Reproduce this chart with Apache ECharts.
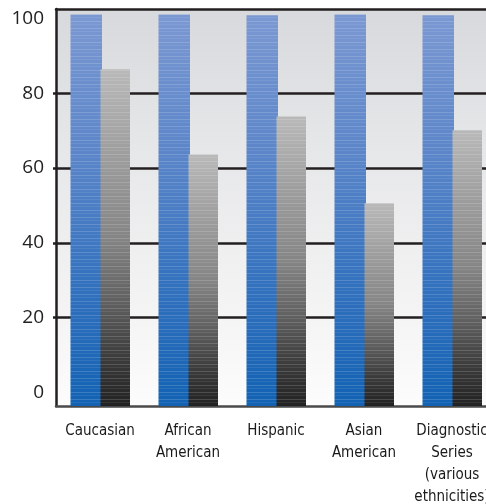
<!DOCTYPE html>
<html>
<head>
<meta charset="utf-8">
<script src="https://cdn.jsdelivr.net/npm/echarts@6/dist/echarts.min.js"></script>
<style>
  html, body { margin: 0; padding: 0; background: #fff; }
  #chart { width: 486px; height: 504px; }
</style>
</head>
<body>
<div id="chart"></div>
<script>
const categories = ['Caucasian', 'African\nAmerican', 'Hispanic', 'Asian\nAmerican', 'Diagnostic\nSeries\n(various\nethnicities)']
const blueValues = [101, 101, 100.8, 101, 100.8]
const grayValues = [86.4, 63.6, 73.8, 50.6, 70.1]
const tickMin = 0
const tickMax = 100
const tickStep = 20

// the bars sit on a floor a little below zero, the frame a little above 100
const Y_MIN = -3.6
const Y_MAX = 102.5
const GRID_TOP = 9
const GRID_BOTTOM = 98
const CHART_H = 504
const ppu = (CHART_H - GRID_TOP - GRID_BOTTOM) / (Y_MAX - Y_MIN)

const dark = '#231f20'

// faint light stripes over the bars
const stripe = document.createElement('canvas')
stripe.width = 4
stripe.height = 7
const sctx = stripe.getContext('2d')
sctx.fillStyle = 'rgba(255,255,255,0.16)'
sctx.fillRect(0, 0, 4, 1)
sctx.fillStyle = 'rgba(255,255,255,0.08)'
sctx.fillRect(0, 3, 4, 1)
const stripePattern = { image: stripe, repeat: 'repeat' }

const grad = (stops) => new echarts.graphic.LinearGradient(0, 0, 0, 1,
  stops.map(([offset, color]) => ({ offset, color })))

const blueFill = grad([[0, '#7b98d2'], [0.35, '#5c86c9'], [0.7, '#3271be'], [1, '#1262b3']])
const grayFill = grad([[0, '#b9b9b9'], [0.25, '#9e9e9e'], [0.5, '#858585'], [0.7, '#5e5e5e'], [0.85, '#3d3d3d'], [1, '#222222']])

const barRenderer = (offset, width, fill) => (params, api) => {
  const i = api.value(0)
  const top = api.coord([i, api.value(1)])
  const base = api.coord([i, Y_MIN])
  const shape = { x: top[0] + offset, y: top[1], width, height: base[1] - top[1] }
  return {
    type: 'group',
    children: [
      { type: 'rect', shape, style: { fill } },
      { type: 'rect', shape, style: { fill: stripePattern } }
    ]
  }
}

// only the inner ticks get a rule; 0 and 100 stay bare
const ruleColors = []
for (let v = tickMin; v <= tickMax; v += tickStep) {
  ruleColors.push(v === tickMin || v === tickMax ? 'rgba(0,0,0,0)' : dark)
}

const chart = echarts.init(document.getElementById('chart'))

chart.setOption({
  animation: false,
  grid: [
    {
      left: 56, top: GRID_TOP, width: 440, bottom: GRID_BOTTOM,
      outerBoundsMode: 'none', containLabel: false,
      show: true, borderWidth: 0,
      backgroundColor: grad([[0, '#d8d9dc'], [0.35, '#e6e7e9'], [0.7, '#f2f2f2'], [1, '#fcfcfc']])
    },
    {
      left: 53, width: 440,
      outerBoundsMode: 'none', containLabel: false,
      top: GRID_TOP + (Y_MAX - tickMax) * ppu,
      bottom: GRID_BOTTOM + (tickMin - Y_MIN) * ppu
    }
  ],
  xAxis: [
    {
      gridIndex: 0, type: 'category', data: categories,
      axisLine: { onZero: false, lineStyle: { color: '#4a4a4a', width: 2.5 } },
      axisTick: { show: false },
      axisLabel: {
        margin: 14, interval: 0,
        fontFamily: '"Liberation Sans Narrow", "DejaVu Sans Condensed", sans-serif',
        fontSize: 15, lineHeight: 22, color: '#1a1a1a'
      }
    },
    {
      gridIndex: 0, type: 'category', data: categories, position: 'top',
      axisLine: { onZero: false, lineStyle: { color: dark, width: 2.5 } },
      axisTick: { show: false },
      axisLabel: { show: false }
    },
    {
      gridIndex: 1, type: 'value', show: false,
      axisLine: { show: false }, splitLine: { show: false }
    }
  ],
  yAxis: [
    {
      gridIndex: 0, type: 'value', min: Y_MIN, max: Y_MAX,
      axisLine: { show: true, onZero: false, lineStyle: { color: dark, width: 2.5 } },
      axisTick: { show: false },
      axisLabel: { show: false },
      splitLine: { show: false }
    },
    {
      gridIndex: 1, type: 'value', min: tickMin, max: tickMax, interval: tickStep,
      axisLine: { show: false },
      axisTick: { show: false },
      axisLabel: {
        margin: 9, padding: [3, 0, 0, 0],
        fontFamily: '"Open Sans", sans-serif', fontSize: 19, color: '#222'
      },
      splitLine: {
        show: true,
        lineStyle: { color: ruleColors, width: 2.5 }
      }
    }
  ],
  series: [
    {
      type: 'custom', xAxisIndex: 0, yAxisIndex: 0,
      renderItem: barRenderer(-29.5, 31.5, blueFill),
      encode: { x: 0, y: 1 },
      data: blueValues.map((v, i) => [i, v])
    },
    {
      type: 'custom', xAxisIndex: 0, yAxisIndex: 0,
      renderItem: barRenderer(0.5, 29.5, grayFill),
      encode: { x: 0, y: 1 },
      data: grayValues.map((v, i) => [i, v])
    }
  ]
})
</script>
</body>
</html>
